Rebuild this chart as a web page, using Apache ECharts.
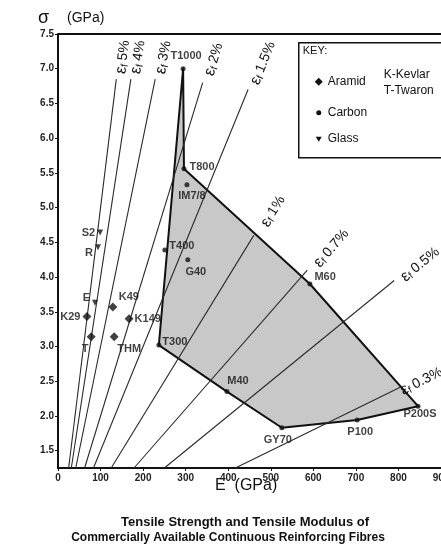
<!DOCTYPE html>
<html>
<head>
<meta charset="utf-8">
<script src="https://cdn.jsdelivr.net/npm/echarts@6/dist/echarts.min.js"></script>
<style>
  html, body { margin: 0; padding: 0; background: #fff; }
  #chart { width: 441px; height: 552px; }
</style>
</head>
<body>
<div id="chart"></div>
<script>
// Tensile modulus E (GPa) and tensile strength σ (GPa) of reinforcing fibres

const carbonNames    = ['T1000', 'T800', 'IM7/8', 'T400', 'G40', 'T300', 'M40', 'M60', 'GY70', 'P100', 'P200S'];
const carbonModulus  = [294, 296, 303, 251, 305, 237, 397, 592, 526, 703, 846];
const carbonStrength = [7.0, 5.56, 5.33, 4.39, 4.25, 3.02, 2.35, 3.9, 1.83, 1.94, 2.14];

const aramidNames    = ['K29', 'T', 'K49', 'K149', 'THM'];
const aramidModulus  = [68, 78, 129, 167, 132];
const aramidStrength = [3.43, 3.14, 3.57, 3.4, 3.14];

const glassNames     = ['S2', 'R', 'E'];
const glassModulus   = [99, 94, 87];
const glassStrength  = [4.64, 4.43, 3.63];

// Outline of the shaded carbon-fibre region, in drawing order
const carbonRange = ['T1000', 'T800', 'M60', 'P200S', 'P100', 'GY70', 'M40', 'T300'];

// Lines of constant failure strain, σ = ε·E
const strainPercent = [5, 4, 3, 2, 1.5, 1, 0.7, 0.5, 0.3];

const xTicks = [0, 100, 200, 300, 400, 500, 600, 700, 800, 900];
const yTicks = [1.5, 2.0, 2.5, 3.0, 3.5, 4.0, 4.5, 5.0, 5.5, 6.0, 6.5, 7.0, 7.5];

// ---- layout ----
const X_MIN = 0, X_MAX = 900, Y_MIN = 1.25, Y_MAX = 7.5;
const FONT = '"Liberation Sans", Arial, sans-serif';
const INK = '#111';

// σ where each strain line stops, and where its label segment ends
const strainLineEnd  = [6.85, 6.85, 6.85, 6.8, 6.7, 4.6, 4.1, 3.95, 2.42];
const strainLabelEnd = [7.5, 7.5, 7.5, 7.5, 7.5, 5.35, 4.8, 4.5, 2.68];

const labelPlacement = {
  'T1000': { position: 'top', distance: 5, offset: [3, 0] },
  'T800':  { position: 'right', distance: 3, offset: [0, -2] },
  'IM7/8': { position: 'bottom', distance: 3, offset: [5, 0] },
  'T400':  { position: 'right', distance: 2, offset: [0, -4] },
  'G40':   { position: 'bottom', distance: 4, offset: [8, 0] },
  'T300':  { position: 'right', distance: 1, offset: [0, -3] },
  'M40':   { position: 'top', distance: 3, offset: [11, 0] },
  'M60':   { position: 'right', distance: 2, offset: [0, -7] },
  'GY70':  { position: 'bottom', distance: 4, offset: [-4, 0] },
  'P100':  { position: 'bottom', distance: 4, offset: [3, 0] },
  'P200S': { position: 'bottom', distance: 0, offset: [2, 0] },
  'K29':   { position: 'left', distance: 2, offset: [0, 0] },
  'T':     { position: 'bottom', distance: 2, offset: [-6, 0] },
  'K49':   { position: 'top', distance: 2, offset: [16, 2] },
  'K149':  { position: 'right', distance: 1, offset: [0, 0] },
  'THM':   { position: 'bottom', distance: 2, offset: [15, 0] },
  'S2':    { position: 'left', distance: 2, offset: [0, 0] },
  'R':     { position: 'left', distance: 2, offset: [0, 6] },
  'E':     { position: 'left', distance: 2, offset: [0, -5] }
};

const pointLabelStyle = { fontFamily: FONT, fontSize: 11, fontWeight: 'bold', color: INK };

function pointData(names, mod, str) {
  return names.map((n, i) => {
    const p = labelPlacement[n] || { position: 'right', distance: 3, offset: [0, 0] };
    return {
      name: n,
      value: [mod[i], str[i]],
      label: Object.assign({ show: true, formatter: n }, pointLabelStyle, p)
    };
  });
}

const strainRich = {
  e: { fontFamily: FONT, fontSize: 16, color: INK },
  s: { fontFamily: FONT, fontSize: 10, color: INK, verticalAlign: 'bottom', padding: [6, 0, 0, 0] },
  v: { fontFamily: FONT, fontSize: 14, color: INK }
};

// strain lines, each with its label laid along the line's continuation
const strainSeries = strainPercent.map((p, i) => {
  const e = p / 100;
  const s0 = Y_MIN, s1 = strainLineEnd[i], s2 = strainLabelEnd[i];
  return {
    type: 'line',
    symbol: 'none',
    silent: true,
    z: 3,
    lineStyle: { color: '#2a2a2a', width: 1.1 },
    data: [[s0 / e, s0], [s1 / e, s1]],
    markLine: {
      silent: true,
      symbol: ['none', 'none'],
      lineStyle: { color: 'rgba(0,0,0,0)', width: 0 },
      label: {
        show: true,
        position: 'insideMiddleBottom',
        distance: -4,
        formatter: '{e|ε}{s|f} {v|' + p + '%}',
        rich: strainRich
      },
      data: [[{ coord: [s1 / e, s1] }, { coord: [s2 / e, s2] }]]
    }
  };
});

const rangeIdx = carbonRange.map(n => carbonNames.indexOf(n));

const chart = echarts.init(document.getElementById('chart'), null, { renderer: 'canvas' });

chart.setOption({
  animation: false,
  backgroundColor: '#fff',
  grid: { left: 58, right: 0, top: 34, bottom: 84, containLabel: false, outerBoundsMode: 'none' },
  xAxis: [
    {
      type: 'value', min: X_MIN, max: X_MAX, interval: 100,
      axisLine: { show: true, onZero: false, lineStyle: { color: INK, width: 2 } },
      axisTick: { show: true, inside: false, length: 3, lineStyle: { color: INK, width: 1 } },
      axisLabel: { fontFamily: FONT, fontSize: 10, fontWeight: 'bold', color: '#222', margin: 5,
                   customValues: xTicks },
      splitLine: { show: false }
    },
    {
      type: 'value', position: 'top', min: X_MIN, max: X_MAX,
      axisLine: { show: true, onZero: false, lineStyle: { color: INK, width: 2 } },
      axisTick: { show: false }, axisLabel: { show: false }, splitLine: { show: false }
    }
  ],
  yAxis: {
    type: 'value', min: Y_MIN, max: Y_MAX,
    axisLine: { show: true, onZero: false, lineStyle: { color: INK, width: 2 } },
    axisTick: { show: true, inside: false, length: 3, customValues: yTicks, lineStyle: { color: INK, width: 1 } },
    axisLabel: { fontFamily: FONT, fontSize: 10, fontWeight: 'bold', color: '#222', margin: 4,
                 customValues: yTicks, formatter: v => v.toFixed(1) },
    splitLine: { show: false }
  },
  series: [
    {
      // shaded region spanned by available carbon fibres
      type: 'custom',
      silent: true,
      z: 1,
      data: [0],
      renderItem: function (params, api) {
        const pts = rangeIdx.map(k => api.coord([carbonModulus[k], carbonStrength[k]]));
        return {
          type: 'polygon',
          shape: { points: pts },
          style: { fill: '#c8c8c8', stroke: '#111', lineWidth: 2, lineJoin: 'round' }
        };
      }
    },
    ...strainSeries,
    {
      name: 'Carbon', type: 'scatter', z: 5,
      symbol: 'circle', symbolSize: 5,
      itemStyle: { color: '#111' },
      data: pointData(carbonNames, carbonModulus, carbonStrength)
    },
    {
      name: 'Aramid', type: 'scatter', z: 5,
      symbol: 'diamond', symbolSize: 9,
      itemStyle: { color: '#111' },
      data: pointData(aramidNames, aramidModulus, aramidStrength)
    },
    {
      name: 'Glass', type: 'scatter', z: 5,
      symbol: 'triangle', symbolSize: 6, symbolRotate: 180,
      itemStyle: { color: '#111' },
      data: pointData(glassNames, glassModulus, glassStrength)
    }
  ],
  graphic: [
    // axis titles
    { type: 'text', left: 38, top: 9, style: { text: 'σ', font: '18px ' + FONT, fill: INK } },
    { type: 'text', left: 67, top: 11, style: { text: '(GPa)', font: '14px ' + FONT, fill: INK } },
    { type: 'text', left: 215, top: 478, style: { text: 'E  (GPa)', font: '16px ' + FONT, fill: INK } },
    // in-region annotation
    { type: 'text', x: 271, y: 323, style: { text: 'Range of\nCarbon Fibres\nAvailable', font: '12px ' + FONT,
      fill: INK, align: 'center', verticalAlign: 'middle', lineHeight: 16 } },
    // key
    {
      type: 'group', left: 298, top: 42,
      children: [
        { type: 'rect', shape: { x: 0, y: 0, width: 170, height: 115 },
          style: { fill: '#fff', stroke: INK, lineWidth: 1.5 } },
        { type: 'text', x: 4, y: 3, style: { text: 'KEY:', font: '11px ' + FONT, fill: INK } },
        { type: 'polygon', shape: { points: [[20, 35], [24, 39], [20, 43], [16, 39]] }, style: { fill: '#111' } },
        { type: 'text', x: 29, y: 39, style: { text: 'Aramid', font: '12px ' + FONT, fill: INK, verticalAlign: 'middle' } },
        { type: 'text', x: 85, y: 32, style: { text: 'K-Kevlar', font: '12px ' + FONT, fill: INK, verticalAlign: 'middle' } },
        { type: 'text', x: 85, y: 48, style: { text: 'T-Twaron', font: '12px ' + FONT, fill: INK, verticalAlign: 'middle' } },
        { type: 'circle', shape: { cx: 20, cy: 70, r: 2.5 }, style: { fill: '#111' } },
        { type: 'text', x: 29, y: 70, style: { text: 'Carbon', font: '12px ' + FONT, fill: INK, verticalAlign: 'middle' } },
        { type: 'polygon', shape: { points: [[17, 94], [23, 94], [20, 99]] }, style: { fill: '#111' } },
        { type: 'text', x: 29, y: 96, style: { text: 'Glass', font: '12px ' + FONT, fill: INK, verticalAlign: 'middle' } }
      ]
    },
    // caption
    { type: 'text', x: 245, y: 522, style: { text: 'Tensile Strength and Tensile Modulus of',
      font: 'bold 13px ' + FONT, fill: INK, align: 'center', verticalAlign: 'middle' } },
    { type: 'text', x: 228, y: 538, style: { text: 'Commercially Available Continuous Reinforcing Fibres',
      font: 'bold 12px ' + FONT, fill: INK, align: 'center', verticalAlign: 'middle' } }
  ]
});
</script>
</body>
</html>
